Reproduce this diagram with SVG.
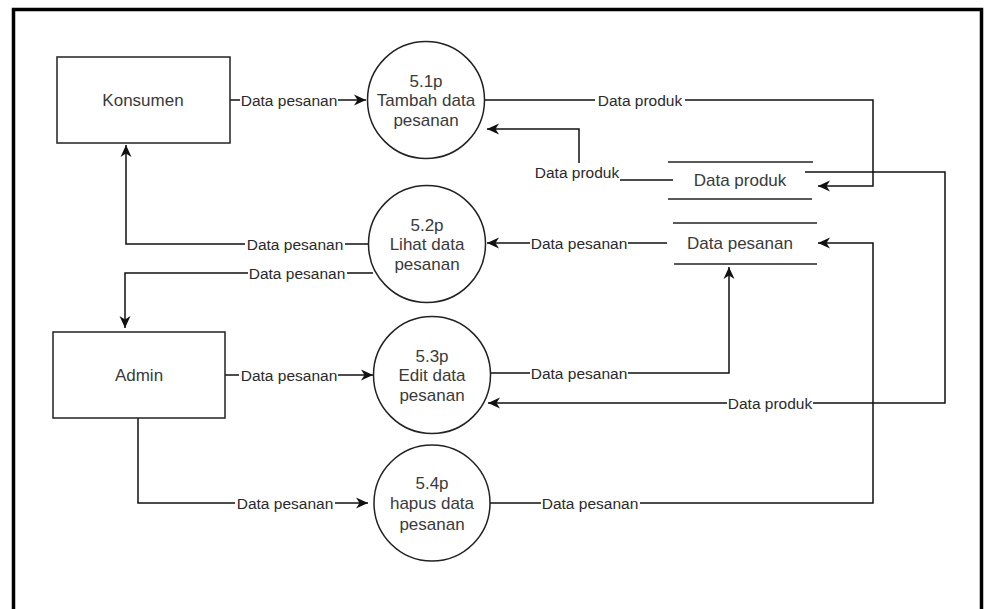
<svg xmlns="http://www.w3.org/2000/svg" width="991" height="609" viewBox="0 0 991 609">
  <style>
    .frame { fill: none; stroke: #000; stroke-width: 3.5; }
    .box { fill: #fff; stroke: #222; stroke-width: 1.5; }
    .proc { fill: #fff; stroke: #222; stroke-width: 1.5; }
    .store { stroke: #222; stroke-width: 1.5; }
    .flow { fill: none; stroke: #111; stroke-width: 1.5; }
    .node-text { font-family: "Liberation Sans", Arial, sans-serif; font-size: 17px; fill: #3a3a3a; text-anchor: middle; }
    .lbl { font-family: "Liberation Sans", Arial, sans-serif; font-size: 15.5px; fill: #2a2a2a; text-anchor: middle; }
    .lbl-bg { fill: #fff; }
  </style>
  <defs>
    <marker id="arrow" markerUnits="userSpaceOnUse" markerWidth="13" markerHeight="12" refX="12" refY="6" orient="auto">
      <path d="M0,0.5 L12,6 L0,11.5 L3.5,6 z" fill="#111"/>
    </marker>
  </defs>

  <rect width="991" height="609" fill="#fff"/>
  <!-- outer border -->
  <rect class="frame" x="13.5" y="9.5" width="968" height="640"/>

  <!-- connectors -->
  <g id="connectors">
    <path class="flow" d="M230,100 H366" marker-end="url(#arrow)"/>
    <path class="flow" d="M484,100 H873 V186 H818" marker-end="url(#arrow)"/>
    <path class="flow" d="M673,180 H579 V129 H487" marker-end="url(#arrow)"/>
    <path class="flow" d="M667,243 H487" marker-end="url(#arrow)"/>
    <path class="flow" d="M368,244 H126 V145" marker-end="url(#arrow)"/>
    <path class="flow" d="M373,273 H125 V328" marker-end="url(#arrow)"/>
    <path class="flow" d="M225,375 H373" marker-end="url(#arrow)"/>
    <path class="flow" d="M490,373 H729 V267" marker-end="url(#arrow)"/>
    <path class="flow" d="M805,172 H945 V403 H488" marker-end="url(#arrow)"/>
    <path class="flow" d="M138,418 V503 H368" marker-end="url(#arrow)"/>
    <path class="flow" d="M490,503 H873 V243 H818" marker-end="url(#arrow)"/>

    <!-- flow labels -->
    <rect class="lbl-bg" x="240" y="91" width="98" height="18"/>
    <text class="lbl" x="289" y="105.5">Data pesanan</text>
    <rect class="lbl-bg" x="595" y="91" width="90" height="18"/>
    <text class="lbl" x="640" y="105.5">Data produk</text>
    <rect class="lbl-bg" x="533" y="163" width="87" height="19"/>
    <text class="lbl" x="577" y="178">Data produk</text>
    <rect class="lbl-bg" x="530" y="234" width="98" height="18"/>
    <text class="lbl" x="579" y="248.5">Data pesanan</text>
    <rect class="lbl-bg" x="245" y="235" width="100" height="18"/>
    <text class="lbl" x="295" y="249.5">Data pesanan</text>
    <rect class="lbl-bg" x="248" y="264" width="99" height="18"/>
    <text class="lbl" x="297" y="278.5">Data pesanan</text>
    <rect class="lbl-bg" x="239" y="366" width="99" height="18"/>
    <text class="lbl" x="289" y="380.5">Data pesanan</text>
    <rect class="lbl-bg" x="530" y="364" width="98" height="18"/>
    <text class="lbl" x="579" y="378.5">Data pesanan</text>
    <rect class="lbl-bg" x="727" y="394" width="86" height="18"/>
    <text class="lbl" x="770" y="408.5">Data produk</text>
    <rect class="lbl-bg" x="235" y="494" width="100" height="18"/>
    <text class="lbl" x="285" y="508.5">Data pesanan</text>
    <rect class="lbl-bg" x="541" y="494" width="99" height="18"/>
    <text class="lbl" x="590" y="508.5">Data pesanan</text>
  </g>

  <!-- external entities -->
  <g id="konsumen">
    <rect class="box" x="57" y="57" width="173" height="86"/>
    <text class="node-text" x="143" y="106">Konsumen</text>
  </g>
  <g id="admin">
    <rect class="box" x="53" y="332" width="172" height="86"/>
    <text class="node-text" x="139" y="381">Admin</text>
  </g>

  <!-- processes -->
  <g id="p51">
    <circle class="proc" cx="426" cy="100" r="58.5"/>
    <text class="node-text" x="426" y="87">5.1p</text>
    <text class="node-text" x="426" y="106">Tambah data</text>
    <text class="node-text" x="426" y="126">pesanan</text>
  </g>
  <g id="p52">
    <circle class="proc" cx="427" cy="244" r="58.5"/>
    <text class="node-text" x="427" y="231">5.2p</text>
    <text class="node-text" x="427" y="250">Lihat data</text>
    <text class="node-text" x="427" y="270">pesanan</text>
  </g>
  <g id="p53">
    <circle class="proc" cx="432" cy="375" r="58.5"/>
    <text class="node-text" x="432" y="362">5.3p</text>
    <text class="node-text" x="432" y="381">Edit data</text>
    <text class="node-text" x="432" y="401">pesanan</text>
  </g>
  <g id="p54">
    <circle class="proc" cx="432" cy="503" r="58"/>
    <text class="node-text" x="432" y="489">5.4p</text>
    <text class="node-text" x="432" y="509">hapus data</text>
    <text class="node-text" x="432" y="530">pesanan</text>
  </g>

  <!-- data stores -->
  <g id="store-produk">
    <line class="store" x1="668" y1="162" x2="813" y2="162"/>
    <line class="store" x1="668" y1="199" x2="812" y2="199"/>
    <text class="node-text" x="740" y="186">Data produk</text>
  </g>
  <g id="store-pesanan">
    <line class="store" x1="673" y1="223" x2="817" y2="223"/>
    <line class="store" x1="674" y1="264" x2="817" y2="264"/>
    <text class="node-text" x="740" y="249">Data pesanan</text>
  </g>
</svg>
